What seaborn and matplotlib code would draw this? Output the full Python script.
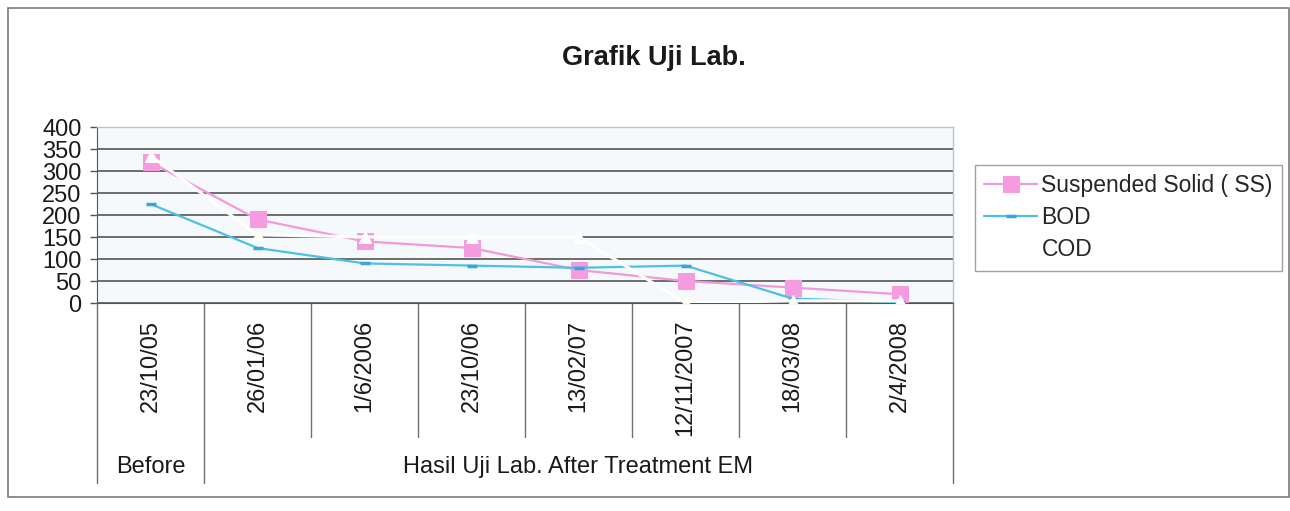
import numpy as np
import pandas as pd
import matplotlib
matplotlib.use("Agg")
import matplotlib.pyplot as plt
import matplotlib.transforms as mtransforms
from matplotlib.patches import Rectangle
import seaborn as sns

# DATA
dates = ["23/10/05", "26/01/06", "1/6/2006", "23/10/06",
         "13/02/07", "12/11/2007", "18/03/08", "2/4/2008"]
groups = ["Before", "Hasil Uji Lab. After Treatment EM"]
group_sizes = [1, 7]
ss = [320, 190, 140, 125, 75, 50, 35, 20]
bod = [225, 125, 90, 85, 80, 85, 10, 2]
cod = [335, 155, 150, 150, 150, 0, 5, 5]
y_ticks = [0, 50, 100, 150, 200, 250, 300, 350, 400]

# STYLE
sns.set_style("white")
plt.rcParams["font.family"] = ["Liberation Sans", "DejaVu Sans"]

W, H = 1290, 511
fig = plt.figure(figsize=(W / 100, H / 100), dpi=100)
fig.patch.set_facecolor("white")

# outer chart frame
fig.patches.append(Rectangle((8 / W, 14 / H), 1281 / W, 489 / H,
                             transform=fig.transFigure, fill=False,
                             edgecolor="#7a7a7a", linewidth=1.2))

ax = fig.add_axes([97 / W, (H - 303) / H, 856 / W, 176 / H])
ax.set_facecolor("#f6f9fc")

df = pd.DataFrame({"date": dates, "ss": ss, "bod": bod, "cod": cod})

sns.lineplot(data=df, x="date", y="ss", sort=False, ax=ax,
             color="#f29ad9", marker="s", markersize=11,
             markerfacecolor="#f59be0", markeredgecolor="#f59be0",
             linewidth=1.6, label="Suspended Solid ( SS)", zorder=3)
sns.lineplot(data=df, x="date", y="bod", sort=False, ax=ax,
             color="#4cc0e6", marker="_", markersize=7, markeredgewidth=2.5,
             markeredgecolor="#3aa6dc", linewidth=1.6, label="BOD", zorder=4)
sns.lineplot(data=df, x="date", y="cod", sort=False, ax=ax,
             color="#fefefa", marker="^", markersize=9,
             markerfacecolor="#fefefa", markeredgecolor="#fefefa",
             linewidth=2.2, label="COD", zorder=5)

# AXES
ax.set_xlim(-0.5, len(dates) - 0.5)
ax.set_ylim(0, 400)
ax.set_yticks(y_ticks)
ax.set_yticklabels([str(v) for v in y_ticks], fontsize=17, color="#1a1a1a")
ax.tick_params(axis="y", length=5, width=1, color="#555555", pad=6, left=True)
ax.set_xticks(range(len(dates)))
ax.set_xticklabels(dates, rotation=90, fontsize=17, color="#1a1a1a")
ax.tick_params(axis="x", length=0, pad=12)
ax.set_xlabel("")
ax.set_ylabel("")
ax.yaxis.grid(True, color="#555555", linewidth=1.2)
ax.set_axisbelow(True)
for s in ["top", "right"]:
    ax.spines[s].set_color("#b9c6cf")
    ax.spines[s].set_linewidth(1)
ax.spines["left"].set_color("#555555")
ax.spines["bottom"].set_color("#555555")

# multi-level category axis separators
trans = mtransforms.blended_transform_factory(ax.transData, ax.transAxes)
cell_bottom = -(437 - 303) / 176
group_bottom = -(483 - 303) / 176
group_edges = np.cumsum([0] + group_sizes) - 0.5
for k in range(len(dates) + 1):
    xb = k - 0.5
    yb = group_bottom if xb in group_edges else cell_bottom
    ax.plot([xb, xb], [0, yb], transform=trans, color="#6f6f6f",
            linewidth=1, clip_on=False)

start = 0
for g, n in zip(groups, group_sizes):
    xc = start + (n - 1) / 2
    ax.text(xc, -(467 - 303) / 176, g, transform=trans, ha="center",
            va="center", fontsize=17, color="#1a1a1a")
    start += n

# TITLE
fig.text(654 / W, 1 - 58 / H, "Grafik Uji Lab.", ha="center", va="center",
         fontsize=19.5, fontweight="bold", color="#1a1a1a")

# LEGEND
ax.get_legend().remove()
handles, labels = ax.get_legend_handles_labels()
leg = fig.legend(handles, labels, loc="upper left",
                 bbox_to_anchor=(975 / W, 1 - 165 / H),
                 fontsize=16.5, frameon=True, fancybox=False,
                 handlelength=2.3, handletextpad=0.2, labelspacing=0.4,
                 borderpad=0.4, borderaxespad=0)
leg.get_frame().set_edgecolor("#8a8a8a")
leg.get_frame().set_linewidth(1)

fig.savefig("out.png", dpi=100)
